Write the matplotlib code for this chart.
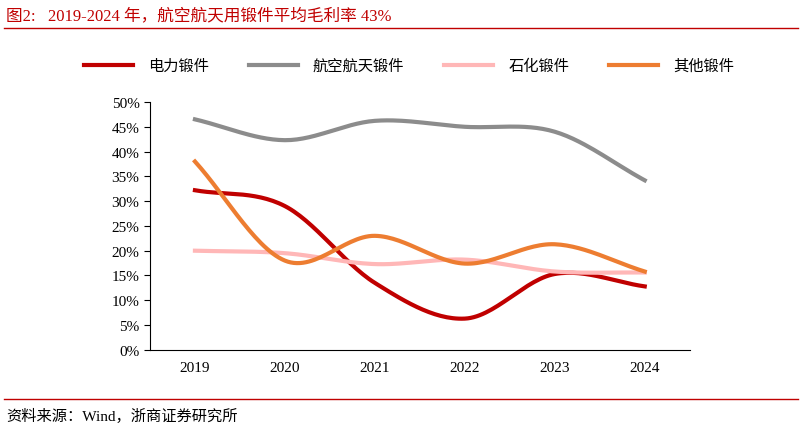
import matplotlib
matplotlib.use("Agg")
import matplotlib.pyplot as plt
import numpy as np

years = ["2019", "2020", "2021", "2022", "2023", "2024"]
power = [32.2, 29.0, 13.5, 6.3, 15.3, 12.8]
aero = [46.5, 42.3, 46.2, 45.0, 44.0, 34.2]
petro = [20.0, 19.5, 17.3, 18.2, 15.8, 15.6]
other = [38.0, 18.0, 23.0, 17.4, 21.3, 15.8]
names = ["电力锻件", "航空航天锻件", "石化锻件", "其他锻件"]
colors = ["#C00000", "#8C8C8C", "#FFB7B7", "#ED7D31"]

plt.rcParams['font.family'] = ['Liberation Serif', 'Noto Sans CJK SC']

def smooth(y, n=30):
    y = np.asarray(y, float)
    x = np.arange(len(y))
    p = np.concatenate([[2*y[0]-y[1]], y, [2*y[-1]-y[-2]]])
    xs, ys = [], []
    for i in range(len(y)-1):
        p0, p1, p2, p3 = p[i], p[i+1], p[i+2], p[i+3]
        t = np.linspace(0, 1, n, endpoint=False)
        v = 0.5*((2*p1) + (-p0+p2)*t + (2*p0-5*p1+4*p2-p3)*t**2 + (-p0+3*p1-3*p2+p3)*t**3)
        xs.append(x[i]+t); ys.append(v)
    xs.append([x[-1]]); ys.append([y[-1]])
    return np.concatenate(xs), np.concatenate(ys)

fig = plt.figure(figsize=(8.02, 4.31), dpi=100)
ax = fig.add_axes([0.187, 0.186, 0.673, 0.575])
for s, c, nm in zip([power, aero, petro, other], colors, names):
    xs, ys = smooth(s)
    ax.plot(xs, ys, color=c, lw=3, label=nm)
ax.set_xlim(-0.5, 5.5)
ax.set_ylim(0, 50)
ax.set_yticks(range(0, 51, 5))
ax.set_yticklabels([f"{v}%" for v in range(0, 51, 5)], fontsize=11)
ax.set_xticks(range(6))
ax.set_xticklabels(years, fontsize=11)
ax.tick_params(axis='x', length=0, pad=8)
ax.tick_params(axis='y', direction='out', length=4)
for sp in ['top', 'right']:
    ax.spines[sp].set_visible(False)
ax.spines['left'].set_color('#000000')
ax.spines['bottom'].set_color('#000000')
fig.legend(loc='center', bbox_to_anchor=(0.51, 0.845), ncol=4, frameon=False,
           fontsize=11, handlelength=3.2, columnspacing=2.6, handletextpad=1.0)

fig.text(0.008, 0.962, "图2:   2019-2024 年，航空航天用锻件平均毛利率 43%", color="#C00000",
         fontsize=12, va='center', ha='left')
fig.add_artist(plt.Line2D([0.005, 0.995], [0.932, 0.932], color="#C00000", lw=1))
fig.add_artist(plt.Line2D([0.005, 0.995], [0.072, 0.072], color="#C00000", lw=1))
fig.text(0.008, 0.035, "资料来源：Wind，浙商证券研究所", fontsize=11, va='center', ha='left')
fig.savefig("out.png", dpi=100)
